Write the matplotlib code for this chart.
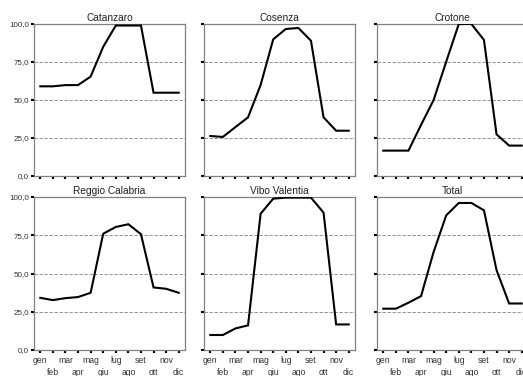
import matplotlib
matplotlib.use("Agg")
import matplotlib.pyplot as plt

plt.rcParams["font.family"] = ["Liberation Sans", "DejaVu Sans"]

months = ["gen", "feb", "mar", "apr", "mag", "giu", "lug", "ago", "set", "ott", "nov", "dic"]
titles = ["Catanzaro", "Cosenza", "Crotone", "Reggio Calabria", "Vibo Valentia", "Total"]

catanzaro = [59.0, 59.0, 59.8, 59.8, 65.4, 85.0, 99.0, 99.0, 99.0, 54.8, 54.8, 54.8]
cosenza = [26.3, 25.7, 32.2, 38.6, 59.9, 89.9, 96.7, 97.4, 89.0, 38.6, 29.8, 29.8]
crotone = [16.7, 16.7, 16.7, 33.6, 50.0, 75.2, 100.0, 100.0, 89.5, 27.4, 20.0, 20.0]
reggio = [34.1, 32.6, 33.9, 34.6, 37.4, 76.0, 80.4, 82.2, 75.7, 40.9, 40.0, 37.4]
vibo = [9.8, 9.8, 14.1, 16.1, 89.1, 98.9, 99.6, 99.6, 99.6, 89.8, 16.7, 16.7]
total = [27.0, 27.0, 30.9, 35.2, 64.1, 88.0, 96.1, 96.1, 91.3, 52.2, 30.4, 30.4]
series = [catanzaro, cosenza, crotone, reggio, vibo, total]

yticks = [0, 25, 50, 75, 100]
ylabels = ["0,0", "25,0", "50,0", "75,0", "100,0"]

W, H = 523, 376
fig = plt.figure(figsize=(W / 100, H / 100), dpi=100)
fig.patch.set_facecolor("white")

lefts = [34, 204, 377]
width = 151
rows = [(24, 176), (197, 350)]
gray = "#808080"
txt = "#333333"

for i, (title, vals) in enumerate(zip(titles, series)):
    r, c = divmod(i, 3)
    top, bottom = rows[r]
    ax = fig.add_axes([lefts[c] / W, 1 - bottom / H, width / W, (bottom - top) / H])
    ax.plot(range(12), vals, color="black", lw=1.5, solid_joinstyle="miter", zorder=3)
    ax.set_xlim(-0.5, 11.5)
    ax.set_ylim(0, 100)
    for y in [25, 50, 75]:
        ax.axhline(y, color=gray, lw=0.6, ls=(0, (4, 2)), zorder=1)
    for s in ax.spines.values():
        s.set_color(gray)
        s.set_linewidth(0.9)
    ax.set_yticks(yticks)
    ax.set_xticks(range(0, 12, 2))
    ax.set_xticks(range(1, 12, 2), minor=True)
    ax.tick_params(axis="y", direction="out", length=2.5, width=1.5, color="black", pad=1,
                   labelsize=5.8, labelcolor=txt)
    ax.tick_params(axis="x", which="both", direction="out", length=1.8, width=1.6,
                   color="black", labelsize=6.2, labelcolor=txt)
    ax.tick_params(axis="x", which="major", pad=2.5)
    ax.tick_params(axis="x", which="minor", pad=11.5)
    if c == 0:
        ax.set_yticklabels(ylabels)
    else:
        ax.set_yticklabels([])
    if r == 1:
        ax.set_xticklabels(months[0::2])
        ax.set_xticklabels(months[1::2], minor=True)
    else:
        ax.set_xticklabels([])
        ax.set_xticklabels([], minor=True)
    ax.set_title(title, fontsize=7.3, pad=2, color="#222222")

fig.savefig("out.png", dpi=100)
